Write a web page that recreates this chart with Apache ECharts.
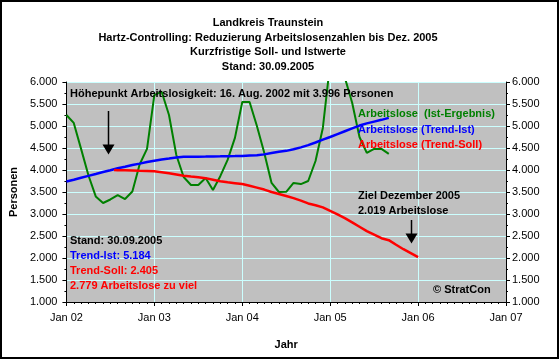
<!DOCTYPE html>
<html>
<head>
<meta charset="utf-8">
<script src="https://cdn.jsdelivr.net/npm/echarts@6/dist/echarts.min.js"></script>
<style>
html,body{margin:0;padding:0;background:#fff;}
#c{width:559px;height:359px;}
</style>
</head>
<body>
<div id="c"></div>
<script>
// Months counted from Jan 2002 (0 = Jan 02)
const xTickLabels = ['Jan 02','Jan 03','Jan 04','Jan 05','Jan 06','Jan 07'];
const yTicks = [1000,1500,2000,2500,3000,3500,4000,4500,5000,5500,6000];

// Arbeitslose (Ist-Ergebnis), monthly Jan 02 .. Sep 05
const istValues = [5250,5070,4480,3880,3400,3250,3330,3430,3340,3510,4130,4480,
                   5700,5780,5250,4340,3840,3660,3660,3820,3545,3860,4230,4730,
                   5545,5545,5000,4390,3705,3500,3505,3705,3680,3750,4205,4955,
                   6430,6600,6100,5530,4750,4390,4480,4480,4365];
// Arbeitslose (Trend-Ist), monthly Jan 02 .. Sep 05
const trendIstValues = [3740,3780,3825,3866,3910,3955,3996,4040,4075,4115,4145,4180,
                        4211,4240,4262,4285,4303,4303,4303,4305,4308,4310,4313,4316,
                        4320,4330,4337,4355,4385,4415,4435,4470,4515,4565,4625,4690,
                        4750,4815,4880,4945,5010,5060,5100,5140,5184];
// Arbeitslose (Trend-Soll), from the peak (Aug 02) to Dec 2005 target
const trendSollMonths = [6.5,7,8,9,10,11,12,13,14,15,16,17,18,19,20,21,22,23,24,25,26,27,28,29,30,
                         31,32,33,34,35,36,37,38,39,40,41,42,43,44,45,46,47,48];
const trendSollValues = [4000,3996,3992,3988,3982,3978,3972,3950,3925,3900,3870,3850,3835,3815,3780,3745,3720,3700,3680,3640,3600,3555,3500,3455,3410,
                         3360,3305,3240,3200,3150,3070,2990,2905,2810,2710,2610,2530,2450,2405,2300,2200,2110,2019];

const FONT = 'Arial, "Liberation Sans", sans-serif';
const fmtY = v => String(v).replace(/\B(?=(\d{3})+(?!\d))/g, '.');

const istData = istValues.map((v,i)=>[i,v]);
const trendIstData = trendIstValues.map((v,i)=>[i,v]);
const trendSollData = trendSollMonths.map((m,i)=>[m,trendSollValues[i]]);

function txt(x,y,text,color,align){
  return {type:'text', x:x, y:y, z:100,
    style:{text:text, fill:color||'#000', font:'bold 11px '+FONT, textAlign:align||'left', textVerticalAlign:'middle'}};
}
function arrow(x,y1,y2){
  return [
    {type:'line', z:100, shape:{x1:x,y1:y1,x2:x,y2:y2-8}, style:{stroke:'#000', lineWidth:1.5}},
    {type:'polygon', z:100, shape:{points:[[x-6,y2-10],[x+6,y2-10],[x,y2]]}, style:{fill:'#000'}}
  ];
}

const yAxisCommon = {
  type:'value', min:1000, max:6000, interval:500,
  axisLine:{show:true, lineStyle:{color:'#000', width:1}},
  axisTick:{show:true, length:4, lineStyle:{color:'#000'}},
  minorTick:{show:true, splitNumber:2, length:2, lineStyle:{color:'#000'}},
  axisLabel:{formatter:fmtY, color:'#000', fontSize:11, fontFamily:FONT}
};

const chart = echarts.init(document.getElementById('c'), null, {renderer:'canvas'});
chart.setOption({
  backgroundColor:'#fff',
  animation:false,
  grid:{left:62, right:53, top:82, bottom:57, show:true, backgroundColor:'#C0C0C0', borderWidth:0},
  xAxis:{
    type:'value', min:0, max:60, interval:12,
    name:'Jahr', nameLocation:'middle', nameGap:37,
    nameTextStyle:{fontWeight:'bold', fontSize:11, fontFamily:FONT, color:'#000'},
    axisLine:{show:true, lineStyle:{color:'#000', width:1}},
    axisTick:{show:true, length:4, lineStyle:{color:'#000'}},
    minorTick:{show:true, splitNumber:12, length:2, lineStyle:{color:'#000'}},
    splitLine:{show:true, lineStyle:{color:'#CCFFFF', width:1}},
    axisLabel:{formatter:v=>xTickLabels[Math.round(v/12)], color:'#000', fontSize:11, fontFamily:FONT, margin:10}
  },
  yAxis:[
    Object.assign({}, yAxisCommon, {position:'left',
      name:'Personen', nameLocation:'middle', nameGap:44, nameRotate:90,
      nameTextStyle:{fontWeight:'bold', fontSize:11, fontFamily:FONT, color:'#000'},
      splitLine:{show:true, lineStyle:{color:'#CCFFFF', width:1}},
      axisLabel:Object.assign({}, yAxisCommon.axisLabel, {margin:9})}),
    Object.assign({}, yAxisCommon, {position:'right',
      splitLine:{show:false},
      axisLabel:Object.assign({}, yAxisCommon.axisLabel, {margin:6})})
  ],
  series:[
    {name:'Arbeitslose (Ist-Ergebnis)', type:'line', data:istData, showSymbol:false, clip:true,
     lineStyle:{color:'#008000', width:2}, z:3},
    {name:'Arbeitslose (Trend-Ist)', type:'line', data:trendIstData, showSymbol:false,
     lineStyle:{color:'#0000FF', width:2.5}, z:4},
    {name:'Arbeitslose (Trend-Soll)', type:'line', data:trendSollData, showSymbol:false,
     lineStyle:{color:'#FF0000', width:2.5}, z:4}
  ],
  graphic:[
    {type:'rect', shape:{x:1,y:1,width:557,height:357}, style:{fill:null, stroke:'#000', lineWidth:2}, z:100},
    txt(268,23,'Landkreis Traunstein','#000','center'),
    txt(268,37.5,'Hartz-Controlling: Reduzierung Arbeitslosenzahlen bis Dez. 2005','#000','center'),
    txt(268,52,'Kurzfristige Soll- und Istwerte','#000','center'),
    txt(268,66.5,'Stand: 30.09.2005','#000','center'),
    txt(70,94,'Höhepunkt Arbeitslosigkeit: 16. Aug. 2002 mit 3.996 Personen','#000'),
    txt(358,113.5,'Arbeitslose  (Ist-Ergebnis)','#008000'),
    txt(358,129.5,'Arbeitslose (Trend-Ist)','#0000FF'),
    txt(358,144.5,'Arbeitslose (Trend-Soll)','#FF0000'),
    txt(358,195.5,'Ziel Dezember 2005','#000'),
    txt(358,210.5,'2.019 Arbeitslose','#000'),
    txt(70,241,'Stand: 30.09.2005','#000'),
    txt(70,256,'Trend-Ist: 5.184','#0000FF'),
    txt(70,271,'Trend-Soll: 2.405','#FF0000'),
    txt(70,286,'2.779 Arbeitslose zu viel','#FF0000'),
    txt(433,290,'© StratCon','#000'),
    ...arrow(108.5,111,154.5),
    ...arrow(411.5,220,243.5)
  ]
});
</script>
</body>
</html>
